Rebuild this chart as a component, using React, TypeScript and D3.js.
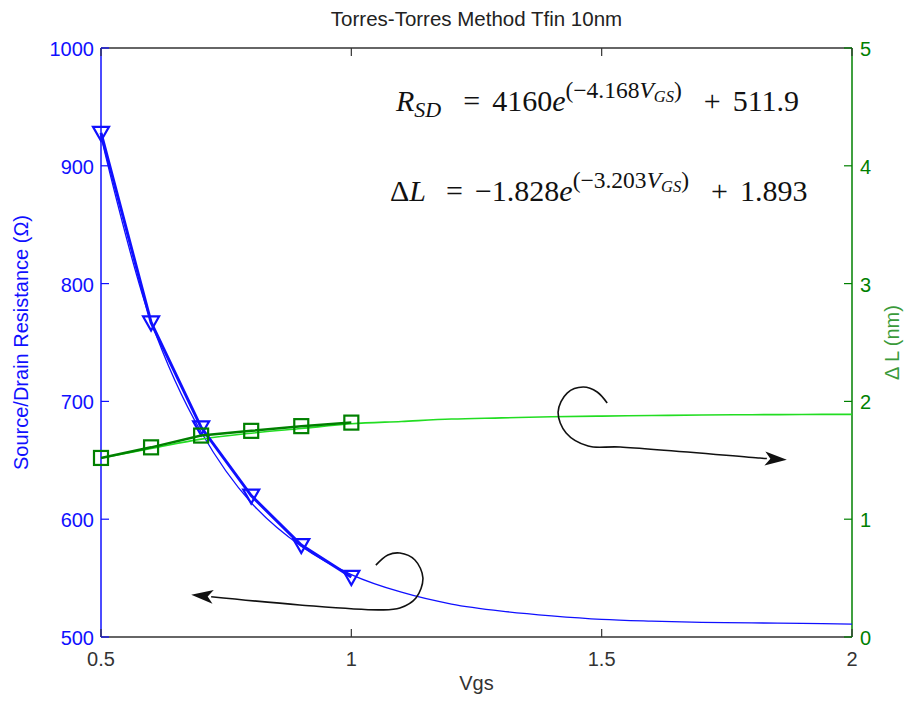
import React from 'react';
import * as d3 from 'd3';

// measured points (Vgs, Rsd in ohm / delta L in nm)
const vgsData = [0.5, 0.6, 0.7, 0.8, 0.9, 1.0];
const rsdData = [928, 767, 678, 620, 578, 551];
const dlData = [1.52, 1.61, 1.71, 1.75, 1.79, 1.82];

// fitted curves
const vgsFit = [0.5, 0.6, 0.7, 0.8, 0.9, 1.0, 1.1, 1.2, 1.3, 1.4, 1.5, 1.6, 1.7, 1.8, 1.9, 2.0];
const rsdFit = [925, 768, 674, 614, 577, 553, 538, 528, 522, 518, 515, 513.5, 512.5, 512, 511.5, 511];
const dlFit = [1.52, 1.6, 1.68, 1.73, 1.77, 1.81, 1.83, 1.85, 1.86, 1.87, 1.875, 1.88, 1.885, 1.887, 1.889, 1.89];

const xTicks = [0.5, 1, 1.5, 2];
const yLeftTicks = [500, 600, 700, 800, 900, 1000];
const yRightTicks = [0, 1, 2, 3, 4, 5];

// annotation arrows in data units (Vgs, left axis)
const arrowLeftX = [1.049, 1.073, 1.097, 1.127, 1.143, 1.129, 1.097, 1.057, 0.897, 0.72];
const arrowLeftY = [561, 569.6, 571.3, 565.4, 550.1, 533.1, 524.6, 523, 527.2, 534.2];
const arrowRightX = [1.511, 1.491, 1.463, 1.431, 1.413, 1.429, 1.473, 1.537, 1.816, 1.83];
const arrowRightY = [698.6, 708, 712.2, 707.1, 691, 673.2, 662.1, 661.3, 651.9, 651.5];

const W = 906, H = 704;
const margin = { top: 48, right: 54, bottom: 67, left: 101 };

const BLUE = '#1010ff';
const GREEN = '#008000';
const LIGHTGREEN = '#22dd22';

const font = 'Liberation Sans, Arial, sans-serif';
const serif = 'Liberation Serif, Times New Roman, serif';

export default function App() {
  const x = d3.scaleLinear().domain([0.5, 2]).range([margin.left, W - margin.right]);
  const yL = d3.scaleLinear().domain([500, 1000]).range([H - margin.bottom, margin.top]);
  const yR = d3.scaleLinear().domain([0, 5]).range([H - margin.bottom, margin.top]);

  const left = margin.left, right = W - margin.right, top = margin.top, bottom = H - margin.bottom;

  const line = d3.line<[number, number]>().x(d => d[0]).y(d => d[1]);
  const smooth = d3.line<[number, number]>().x(d => d[0]).y(d => d[1]).curve(d3.curveCatmullRom);

  const rsdFitPts = vgsFit.map((v, i) => [x(v), yL(rsdFit[i])] as [number, number]);
  const dlFitPts = vgsFit.map((v, i) => [x(v), yR(dlFit[i])] as [number, number]);
  const rsdPts = vgsData.map((v, i) => [x(v), yL(rsdData[i])] as [number, number]);
  const dlPts = vgsData.map((v, i) => [x(v), yR(dlData[i])] as [number, number]);

  const a1 = arrowLeftX.map((v, i) => [x(v), yL(arrowLeftY[i])] as [number, number]);
  const a2 = arrowRightX.map((v, i) => [x(v), yL(arrowRightY[i])] as [number, number]);

  const head = (p: [number, number], q: [number, number]) => {
    const ang = Math.atan2(q[1] - p[1], q[0] - p[0]);
    const tip: [number, number] = [q[0] + Math.cos(ang) * 20, q[1] + Math.sin(ang) * 20];
    const len = 22, wdt = 7;
    const bx = tip[0] - Math.cos(ang) * len, by = tip[1] - Math.sin(ang) * len;
    const nx = -Math.sin(ang) * wdt, ny = Math.cos(ang) * wdt;
    const ix = tip[0] - Math.cos(ang) * len * 0.75, iy = tip[1] - Math.sin(ang) * len * 0.75;
    return `M${tip[0]},${tip[1]}L${bx + nx},${by + ny}L${ix},${iy}L${bx - nx},${by - ny}Z`;
  };

  const tri = (cx: number, cy: number) => `M${cx - 8},${cy - 6}L${cx + 8},${cy - 6}L${cx},${cy + 8}Z`;

  return (
    <svg width={W} height={H} style={{ position: 'absolute', left: 0, top: 0, background: '#fff' }}>
      <text x={(left + right) / 2} y={26} textAnchor="middle" fontFamily={font} fontSize={20.5} fill="#222">
        Torres-Torres Method Tfin 10nm
      </text>

      {/* box */}
      <line x1={left} x2={right} y1={top} y2={top} stroke="#333" strokeWidth={1.5} />
      <line x1={left} x2={right} y1={bottom} y2={bottom} stroke="#333" strokeWidth={1.5} />
      <line x1={left} x2={left} y1={top} y2={bottom} stroke={BLUE} strokeWidth={1.5} />
      <line x1={right} x2={right} y1={top} y2={bottom} stroke={GREEN} strokeWidth={1.5} />

      {xTicks.map(t => (
        <g key={'x' + t}>
          <line x1={x(t)} x2={x(t)} y1={bottom} y2={bottom - 8} stroke="#333" strokeWidth={1.2} />
          <line x1={x(t)} x2={x(t)} y1={top} y2={top + 8} stroke="#333" strokeWidth={1.2} />
          <text x={x(t)} y={bottom + 29} textAnchor="middle" fontFamily={font} fontSize={20} fill="#333">{t}</text>
        </g>
      ))}

      {yLeftTicks.map(t => (
        <g key={'l' + t}>
          <line x1={left} x2={left + 8} y1={yL(t)} y2={yL(t)} stroke={BLUE} strokeWidth={1.2} />
          <text x={left - 7} y={yL(t) + 8} textAnchor="end" fontFamily={font} fontSize={20} fill={BLUE}>{t}</text>
        </g>
      ))}

      {yRightTicks.map(t => (
        <g key={'r' + t}>
          <line x1={right} x2={right - 8} y1={yR(t)} y2={yR(t)} stroke={GREEN} strokeWidth={1.2} />
          <text x={right + 8} y={yR(t) + 8} fontFamily={font} fontSize={20} fill={GREEN}>{t}</text>
        </g>
      ))}

      <text x={(left + right) / 2} y={690} textAnchor="middle" fontFamily={font} fontSize={20} fill="#333">Vgs</text>
      <text transform={`translate(28,${(top + bottom) / 2}) rotate(-90)`} textAnchor="middle" fontFamily={font} fontSize={20} fill={BLUE}>
        Source/Drain Resistance (Ω)
      </text>
      <text transform={`translate(899,${(top + bottom) / 2}) rotate(-90)`} textAnchor="middle" fontFamily={font} fontSize={20} fill="#3a9a3a">
        Δ L (nm)
      </text>

      {/* fits */}
      <path d={smooth(rsdFitPts) ?? ''} fill="none" stroke={BLUE} strokeWidth={1.3} />
      <path d={smooth(dlFitPts) ?? ''} fill="none" stroke={LIGHTGREEN} strokeWidth={1.6} />

      {/* data */}
      <path d={line(rsdPts) ?? ''} fill="none" stroke={BLUE} strokeWidth={3} />
      {rsdPts.map((p, i) => (
        <path key={'t' + i} d={tri(p[0], p[1])} fill="none" stroke={BLUE} strokeWidth={2.2} />
      ))}
      <path d={line(dlPts) ?? ''} fill="none" stroke={GREEN} strokeWidth={2.5} />
      {dlPts.map((p, i) => (
        <rect key={'s' + i} x={p[0] - 7} y={p[1] - 7} width={14} height={14} fill="none" stroke={GREEN} strokeWidth={2.2} />
      ))}

      {/* annotation arrows */}
      <path d={smooth(a1) ?? ''} fill="none" stroke="#111" strokeWidth={1.6} />
      <path d={head(a1[a1.length - 2], a1[a1.length - 1])} fill="#111" />
      <path d={smooth(a2) ?? ''} fill="none" stroke="#111" strokeWidth={1.6} />
      <path d={head(a2[a2.length - 2], a2[a2.length - 1])} fill="#111" />

      {/* equations */}
      <text x={396} y={111} fontFamily={serif} fontSize={30} fill="#111">
        <tspan fontStyle="italic">R</tspan>
        <tspan fontStyle="italic" fontSize={22} dy={6}>SD</tspan>
        <tspan dx={22} dy={-6}>=</tspan>
        <tspan dx={12}>4160</tspan>
        <tspan fontStyle="italic">e</tspan>
        <tspan fontSize={23.5} dy={-13}>(−4.168</tspan>
        <tspan fontSize={23.5} fontStyle="italic">V</tspan>
        <tspan fontSize={16.5} fontStyle="italic" dy={4}>GS</tspan>
        <tspan fontSize={23.5} dy={-4}>)</tspan>
        <tspan dx={22} dy={13}>+</tspan>
        <tspan dx={12}>511.9</tspan>
      </text>
      <text x={390} y={201} fontFamily={serif} fontSize={30} fill="#111">
        <tspan>Δ</tspan>
        <tspan fontStyle="italic">L</tspan>
        <tspan dx={20}>=</tspan>
        <tspan dx={12}>−1.828</tspan>
        <tspan fontStyle="italic">e</tspan>
        <tspan fontSize={23.5} dy={-13}>(−3.203</tspan>
        <tspan fontSize={23.5} fontStyle="italic">V</tspan>
        <tspan fontSize={16.5} fontStyle="italic" dy={4}>GS</tspan>
        <tspan fontSize={23.5} dy={-4}>)</tspan>
        <tspan dx={22} dy={13}>+</tspan>
        <tspan dx={12}>1.893</tspan>
      </text>
    </svg>
  );
}
